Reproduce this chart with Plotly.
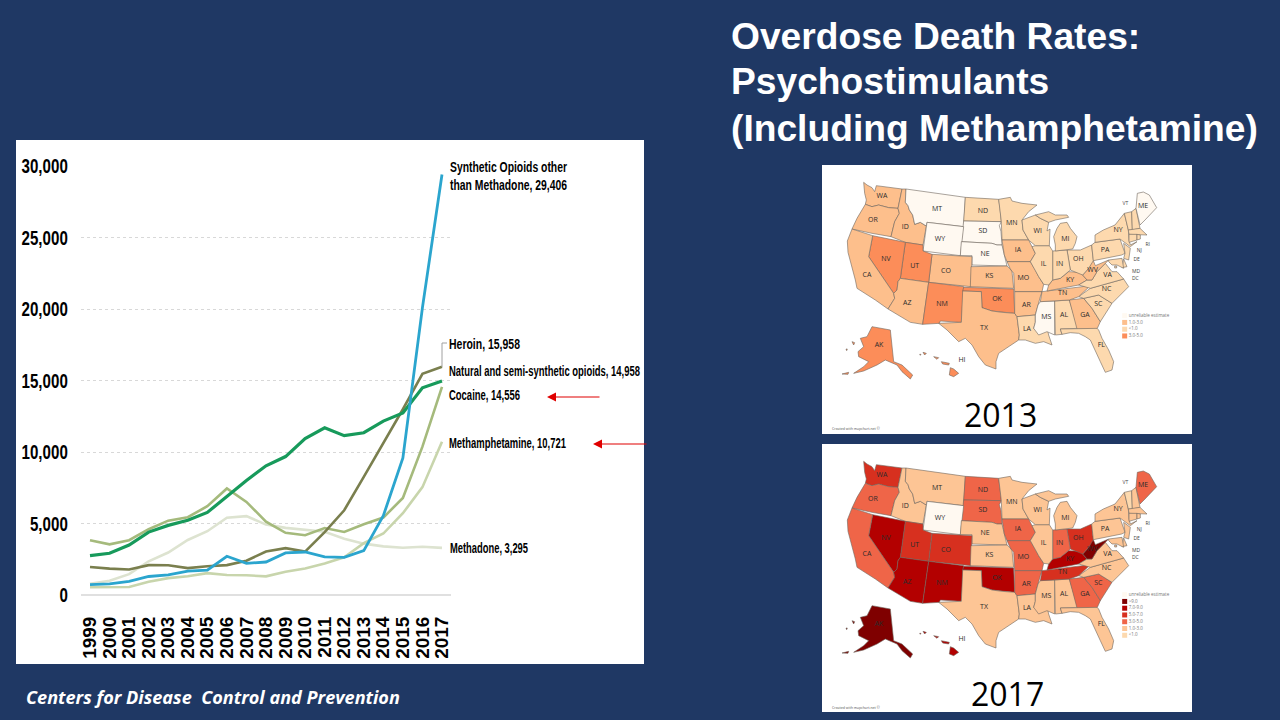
import plotly.graph_objects as go

# ---------- line chart data ----------
YEARS = list(range(1999, 2018))
SYNTHETIC = [730, 782, 957, 1295, 1400, 1664, 1742, 2707, 2213, 2306, 2946, 3007, 2666, 2628, 3105, 5544, 9580, 20100, 29406]
HEROIN = [1960, 1842, 1779, 2089, 2080, 1878, 2009, 2088, 2399, 3041, 3278, 3036, 4397, 5925, 8257, 10574, 12989, 15469, 15958]
NATURAL = [2749, 2917, 3491, 4398, 4867, 5231, 5774, 6901, 8002, 9037, 9681, 10943, 11693, 11140, 11346, 12159, 12727, 14487, 14958]
COCAINE = [3822, 3544, 3833, 4599, 5199, 5443, 6208, 7448, 6512, 5129, 4350, 4183, 4681, 4404, 4944, 5415, 6784, 10375, 14556]
METH = [547, 578, 563, 933, 1181, 1312, 1529, 1400, 1379, 1302, 1632, 1854, 2200, 2635, 3627, 4298, 5716, 7542, 10721]
METHADONE = [784, 1000, 1456, 2358, 2972, 3845, 4460, 5406, 5518, 4924, 4696, 4577, 4418, 3932, 3591, 3400, 3301, 3373, 3295]

# ---------- map data ----------
COL_2013 = {"u": "#FFF9F1", "lt1": "#FDD9AE", "1-3": "#FDBF8C", "3-5": "#FC8D59"}
COL_2017 = {"u": "#FFF9F1", "lt1": "#FDD9AE", "1-3": "#FDC595", "3-5": "#EF6548", "5-7": "#D7301F", "7-9": "#B30000", "gt9": "#7F0000"}

RATE_2013 = dict(
    WA="1-3", OR="1-3", CA="1-3", NV="3-5", ID="1-3", MT="u", WY="u", UT="3-5", AZ="1-3", CO="1-3", NM="3-5",
    ND="lt1", SD="u", NE="u", KS="1-3", OK="3-5", TX="1-3", MN="lt1", IA="1-3", MO="1-3", AR="1-3", LA="lt1",
    WI="lt1", IL="lt1", MS="u", MI="lt1", IN="lt1", OH="lt1", KY="1-3", TN="1-3", AL="lt1", GA="1-3", FL="lt1",
    SC="lt1", NC="lt1", VA="lt1", WV="1-3", PA="lt1", NY="lt1", VT="lt1", NH="lt1", ME="u", MA="lt1", CT="lt1",
    RI="lt1", NJ="lt1", DE="lt1", MD="lt1", DC="lt1", AK="3-5", HI="3-5")
RATE_2017 = dict(
    WA="5-7", OR="3-5", CA="3-5", NV="7-9", ID="1-3", MT="1-3", WY="u", UT="5-7", AZ="7-9", CO="5-7", NM="7-9",
    ND="3-5", SD="3-5", NE="1-3", KS="1-3", OK="7-9", TX="1-3", MN="1-3", IA="3-5", MO="3-5", AR="3-5", LA="1-3",
    WI="1-3", IL="1-3", MS="1-3", MI="1-3", IN="3-5", OH="5-7", KY="7-9", TN="5-7", AL="1-3", GA="3-5", FL="1-3",
    SC="3-5", NC="1-3", VA="1-3", WV="gt9", PA="1-3", NY="1-3", VT="lt1", NH="1-3", ME="3-5", MA="1-3", CT="1-3",
    RI="1-3", NJ="1-3", DE="1-3", MD="1-3", DC="1-3", AK="gt9", HI="7-9")

LEGEND_2013 = [("unreliable estimate", "u"), ("1.0-3.0", "1-3"), ("<1.0", "lt1"), ("3.0-5.0", "3-5")]
LEGEND_2017 = [("unreliable estimate", "u"), (">9.0", "gt9"), ("7.0-9.0", "7-9"), ("5.0-7.0", "5-7"),
               ("3.0-5.0", "3-5"), ("1.0-3.0", "1-3"), ("<1.0", "lt1")]

# State outlines, in the map's own unit grid
OUTLINES = {
 "WA": [[(125,52),(135,60),(150,68),(158,80),(163,62),(240,72),(228,130),(200,128),(170,120),(150,125),(130,118),(133,105),(128,85)]],
 "OR": [[(130,118),(150,125),(170,120),(200,128),(228,130),(232,145),(218,170),(207,215),(150,205),(90,192),(105,160),(118,140)]],
 "ID": [[(240,72),(252,72),(250,112),(258,122),(262,135),(272,150),(278,178),(295,172),(313,183),(303,240),(250,232),(207,215),(218,170),(232,145),(228,130)]],
 "MT": [[(252,72),(430,97),(425,185),(315,172),(313,183),(295,172),(278,178),(272,150),(262,135),(258,122),(250,112)]],
 "ND": [[(430,97),(530,103),(534,130),(538,170),(425,168)]],
 "SD": [[(425,168),(538,170),(532,182),(537,200),(540,240),(525,240),(510,235),(418,230)]],
 "WY": [[(315,172),(425,185),(415,272),(303,258)]],
 "NE": [[(418,230),(510,235),(525,240),(540,240),(547,270),(555,303),(450,300),(450,272),(415,272)]],
 "CO": [[(330,268),(450,275),(447,365),(320,352)]],
 "UT": [[(250,232),(303,240),(303,258),(330,268),(320,352),(235,340)]],
 "NV": [[(152,212),(250,232),(235,340),(228,350),(225,375),(215,385),(140,275)]],
 "CA": [[(90,192),(152,212),(140,275),(215,385),(218,400),(210,412),(198,432),(160,405),(130,385),(105,370),(100,345),(90,310),(78,262),(76,228)]],
 "AZ": [[(235,340),(320,352),(302,478),(265,472),(198,432),(210,412),(218,400),(215,385),(225,375),(228,350)]],
 "NM": [[(320,352),(425,365),(418,472),(355,468),(352,475),(302,478)]],
 "KS": [[(447,305),(555,303),(565,312),(570,320),(575,370),(445,365)]],
 "OK": [[(425,367),(575,372),(578,445),(540,442),(510,438),(480,428),(478,380),(422,378)]],
 "TX": [[(422,378),(478,380),(480,428),(510,438),(540,442),(578,445),(585,455),(592,510),(590,525),(560,545),(530,565),(522,590),(522,612),(490,600),(470,575),(450,540),(430,520),(410,530),(390,510),(375,495),(350,475),(418,472)]],
 "MN": [[(530,103),(565,97),(570,108),(600,115),(645,120),(620,140),(600,165),(603,195),(620,225),(540,225),(538,170),(534,130)]],
 "IA": [[(540,225),(620,225),(630,245),(640,265),(625,290),(555,290),(547,270)]],
 "MO": [[(555,290),(625,290),(640,315),(650,335),(665,358),(660,380),(578,380),(575,325),(565,312)]],
 "AR": [[(578,380),(660,380),(655,395),(648,420),(640,450),(585,455),(578,445)]],
 "LA": [[(585,455),(640,450),(640,472),(635,490),(675,488),(680,510),(690,540),(665,530),(640,535),(610,525),(590,525),(592,510)]],
 "MS": [[(655,410),(698,408),(698,510),(675,500),(650,510),(635,490),(640,472),(640,450),(648,420)]],
 "AL": [[(698,408),(742,405),(768,490),(715,492),(720,508),(700,510)]],
 "GA": [[(742,405),(785,400),(810,430),(835,470),(825,492),(765,492)]],
 "FL": [[(715,492),(768,490),(825,490),(830,495),(840,520),(860,555),(875,590),(870,615),(850,622),(835,590),(820,555),(805,525),(790,515),(770,505),(745,503),(720,508)]],
 "SC": [[(785,400),(830,390),(870,415),(850,445),(835,470),(810,430)]],
 "NC": [[(805,370),(905,342),(920,365),(900,385),(870,415),(830,390),(785,400),(770,395)]],
 "TN": [[(660,380),(675,378),(805,362),(770,395),(742,405),(655,410)]],
 "KY": [[(680,360),(692,345),(715,340),(740,320),(775,322),(795,345),(770,360),(675,378)]],
 "VA": [[(770,360),(795,345),(810,345),(825,320),(850,295),(870,320),(885,320),(905,342),(805,370)]],
 "WV": [[(782,330),(800,310),(809,287),(814,287),(820,302),(860,285),(850,295),(825,320),(810,345),(795,345)]],
 "OH": [[(735,255),(775,255),(809,240),(814,287),(800,310),(782,330),(745,315)]],
 "IN": [[(692,258),(735,255),(745,315),(715,340),(692,345)]],
 "IL": [[(640,242),(682,242),(692,258),(692,345),(680,360),(665,358),(650,335),(640,315),(625,290),(640,265),(630,245)]],
 "WI": [[(600,165),(640,150),(655,160),(680,172),(675,198),(684,192),(682,242),(640,242),(620,225),(603,195)]],
 "MI": [[(700,240),(695,215),(705,190),(715,175),(735,172),(745,190),(765,215),(760,235),(752,252),(700,258)],[(640,150),(680,140),(700,150),(735,150),(740,157),(700,165),(680,172),(655,160)]],
 "PA": [[(809,240),(819,232),(894,222),(909,265),(899,270),(814,287)]],
 "NY": [[(819,210),(844,195),(879,180),(907,145),(919,195),(921,225),(925,240),(945,230),(925,245),(894,222),(819,232)]],
 "VT": [[(907,145),(929,140),(931,195),(919,195)]],
 "NH": [[(929,140),(942,130),(954,190),(931,195)]],
 "ME": [[(946,85),(964,81),(982,90),(1004,128),(969,165),(954,180),(942,130)]],
 "MA": [[(919,195),(954,190),(975,210),(921,208)]],
 "CT": [[(921,208),(945,208),(945,225),(921,232)]],
 "RI": [[(945,208),(955,210),(955,222),(945,225)]],
 "NJ": [[(905,235),(925,250),(920,285),(905,280),(909,265)]],
 "DE": [[(905,282),(915,305),(900,308)]],
 "MD": [[(860,285),(900,280),(905,310),(885,300),(870,300),(860,290)]],
 "DC": [[(878,303),(884,303),(884,309),(878,309)]],
 "AK": [[(150,485),(205,495),(215,590),(240,600),(272,630),(265,642),(240,620),(225,600),(190,585),(165,600),(125,618),(95,625),(125,605),(140,590),(110,575),(108,560),(125,545),(115,520),(135,515)],[(60,627),(80,622),(78,628)],[(90,530),(98,533),(95,540)],[(72,552),(76,552),(74,557)]],
 "HI": [[(385,608),(395,612),(410,625),(395,635),(382,630)],[(358,590),(382,595),(380,600),(362,597)],[(335,575),(350,578),(345,583)],[(303,562),(313,565),(308,570)],[(293,568),(297,568),(295,571)]],
}
LABELS = dict(
    WA=(180,93), OR=(153,167), CA=(135,330), NV=(192,282), ID=(250,188), MT=(345,133), WY=(354,223), UT=(278,305),
    AZ=(256,415), CO=(372,320), NM=(360,417), ND=(483,140), SD=(483,198), NE=(489,267), KS=(502,335), OK=(525,402),
    TX=(486,491), MN=(569,174), IA=(588,255), MO=(604,339), AR=(613,421), LA=(615,492), WI=(647,198), IL=(665,299),
    MS=(673,456), MI=(730,222), IN=(713,299), OH=(769,283), KY=(744,345), TN=(722,385), AL=(726,452), GA=(789,452),
    FL=(838,541), SC=(829,417), NC=(854,372), VA=(857,330), WV=(812,316), PA=(849,255), NY=(888,196), ME=(963,125), HI=(420,587), AKL=(171,541))
CALLOUTS = dict(VT=(910,115), NJ=(952,257), DE=(944,285), MD=(942,319), DC=(940,341), RI=(977,239))

NAVY = "#1F3864"
SERIES = [("Methadone", METHADONE, "#DDE3D0", 2.6), ("Methamphetamine", METH, "#C8D5AC", 2.6),
          ("Cocaine", COCAINE, "#A5BA7C", 2.6), ("Heroin", HEROIN, "#7A7F4E", 2.6),
          ("Natural", NATURAL, "#179A5B", 3.2), ("Synthetic", SYNTHETIC, "#2BA5CE", 2.8)]

def fx(p): return p / 1280
def fy(p): return 1 - p / 720

fig = go.Figure()
for name, vals, col, w in SERIES:
    fig.add_trace(go.Scatter(x=YEARS, y=vals, mode="lines", name=name, line=dict(color=col, width=w),
                             xaxis="x", yaxis="y", hoverinfo="skip", showlegend=False))

def add_map(xa, ya, rates, colors, legend):
    for st, parts in OUTLINES.items():
        xs, ys = [], []
        for part in parts:
            xs += [p[0] for p in part] + [part[0][0], None]
            ys += [p[1] for p in part] + [part[0][1], None]
        fig.add_trace(go.Scatter(x=xs, y=ys, mode="lines", fill="toself", fillcolor=colors[rates[st]],
                                 line=dict(color="#6E675E", width=0.6), xaxis=xa, yaxis=ya,
                                 hoverinfo="skip", showlegend=False))
    names = [k.replace("AKL", "AK") for k in LABELS]
    fig.add_trace(go.Scatter(x=[v[0] for v in LABELS.values()], y=[v[1] for v in LABELS.values()], mode="text", text=names,
                             textfont=dict(family="Open Sans", size=7, color="#2B2B2B"), xaxis=xa, yaxis=ya,
                             hoverinfo="skip", showlegend=False))
    fig.add_trace(go.Scatter(x=[v[0] for v in CALLOUTS.values()], y=[v[1] for v in CALLOUTS.values()], mode="text",
                             text=list(CALLOUTS), textfont=dict(family="Open Sans", size=5, color="#444"),
                             xaxis=xa, yaxis=ya, hoverinfo="skip", showlegend=False))
    ly = [452 + 20.3 * i for i in range(len(legend))]
    fig.add_trace(go.Scatter(x=[908] * len(legend), y=ly, mode="markers+text",
                             marker=dict(symbol="square", size=5, color=[colors[k] for _, k in legend]),
                             text=[t for t, _ in legend], textposition="middle right",
                             textfont=dict(family="Open Sans", size=4.5, color="#777"),
                             xaxis=xa, yaxis=ya, hoverinfo="skip", showlegend=False))
    fig.add_trace(go.Scatter(x=[30], y=[792], mode="text", text=["Created with mapchart.net ©"], textposition="middle right",
                             textfont=dict(family="Open Sans", size=3.5, color="#555"),
                             xaxis=xa, yaxis=ya, hoverinfo="skip", showlegend=False))

add_map("x2", "y2", RATE_2013, COL_2013, LEGEND_2013)
add_map("x3", "y3", RATE_2017, COL_2017, LEGEND_2017)

shapes = [
    dict(type="rect", xref="paper", yref="paper", x0=fx(16), x1=fx(644), y0=fy(664), y1=fy(140), fillcolor="white", line_width=0, layer="below"),
    dict(type="rect", xref="paper", yref="paper", x0=fx(822), x1=fx(1192), y0=fy(434), y1=fy(165), fillcolor="white", line_width=0, layer="below"),
    dict(type="rect", xref="paper", yref="paper", x0=fx(822), x1=fx(1192), y0=fy(712), y1=fy(444), fillcolor="white", line_width=0, layer="below"),
    dict(type="path", xref="paper", yref="paper",
         path=f"M {fx(442)} {fy(367)} L {fx(442)} {fy(343)} L {fx(447)} {fy(343)}", line=dict(color="#A0A0A0", width=1)),
]

SANS = "Liberation Sans"
def note(text, x, y, size=14.5, color="black", family=SANS, style="normal"):
    return dict(text=text, xref="paper", yref="paper", x=fx(x), y=fy(y), xanchor="left", yanchor="middle", align="left",
                showarrow=False, font=dict(family=family, size=size, color=color, weight=700, style=style))

annotations = [
    note("Synthetic Opioids other", 447.5, 167), note("than Methadone, 29,406", 447.5, 185),
    note("Heroin, 15,958", 446.5, 344), note("Natural and semi-synthetic opioids, 14,958", 446.5, 371),
    note("Cocaine, 14,556", 446.5, 395), note("Methamphetamine, 10,721", 446.5, 443), note("Methadone, 3,295", 447.5, 548),
    note("Overdose Death Rates:", 728.5, 36, 37.2, "white"),
    note("Psychostimulants", 728.5, 81, 37.2, "white"),
    note("(Including Methamphetamine)", 728.5, 128, 37.2, "white"),
    note("Centers for Disease  Control and Prevention", 24, 697, 18.1, "white", "Open Sans", "italic"),
    dict(text="2013", xref="paper", yref="paper", x=fx(1000), y=fy(415), xanchor="center", yanchor="middle", showarrow=False,
         font=dict(family="Open Sans", size=32, color="black")),
    dict(text="2017", xref="paper", yref="paper", x=fx(1007), y=fy(693), xanchor="center", yanchor="middle", showarrow=False,
         font=dict(family="Open Sans", size=32, color="black")),
]
for x0, x1, y in [(601, 547, 397), (648, 593, 444)]:
    annotations.append(dict(text="", xref="paper", yref="paper", x=fx(x1), y=fy(y), ax=x0 - x1, ay=0,
                            showarrow=True, arrowhead=2, arrowsize=1.5, arrowwidth=1.2, arrowcolor="#E00000"))

px_per_year = (442 - 90) / 18
fig.update_layout(
    width=1280, height=720, margin=dict(l=0, r=0, t=0, b=0), paper_bgcolor=NAVY, plot_bgcolor="rgba(0,0,0,0)",
    shapes=shapes, annotations=annotations, showlegend=False, template="none",
    xaxis=dict(domain=[fx(81), fx(451)], range=[1999 - 9 / px_per_year, 2017 + 9 / px_per_year], tickmode="linear", tick0=1999, dtick=1,
               automargin=False, tickangle=-90, showgrid=False, zeroline=False, showline=False, ticks="outside", ticklen=13, tickcolor="rgba(0,0,0,0)",
               tickfont=dict(family=SANS, size=19, color="black", weight=700)),
    yaxis=dict(domain=[fy(595), fy(166)], range=[0, 30000], tickvals=[0, 5000, 10000, 15000, 20000, 25000, 30000], tickformat=",",
               automargin=False, showgrid=True, gridcolor="#D8D8D8", griddash="dot", gridwidth=1, zeroline=True, zerolinecolor="#E0E0E0", zerolinewidth=1.5,
               ticks="outside", ticklen=8, tickcolor="rgba(0,0,0,0)", tickfont=dict(family=SANS, size=21, color="black", weight=700)),
    xaxis2=dict(domain=[fx(822), fx(1192)], range=[0, 1110], visible=False, fixedrange=True),
    yaxis2=dict(domain=[fy(435), fy(165)], range=[810, 0], visible=False, fixedrange=True),
    xaxis3=dict(domain=[fx(822), fx(1192)], range=[0, 1110], visible=False, fixedrange=True),
    yaxis3=dict(domain=[fy(714), fy(444)], range=[810, 0], visible=False, fixedrange=True),
)

# The reference's chart labels are set in a narrow cut of a bold grotesque; no narrow face is installed,
# so the browser squeezes the real text horizontally to the width it has in the reference.
POST = """
document.body.style.margin='0';document.body.style.overflow='hidden';document.body.style.background='#1F3864';
function squeeze(el,w){el.setAttribute('textLength',w);el.setAttribute('lengthAdjust','spacingAndGlyphs');}
document.querySelectorAll('.ytick text').forEach(function(t){squeeze(t,t.getComputedTextLength()*0.72);});
var W={'Synthetic Opioids other':117,'than Methadone, 29,406':117,'Heroin, 15,958':71,'Natural and semi-synthetic opioids, 14,958':191,
'Cocaine, 14,556':71,'Methamphetamine, 10,721':117,'Methadone, 3,295':78};
document.querySelectorAll('.annotation-text').forEach(function(t){var w=W[t.textContent];if(w)squeeze(t,w);});
"""
fig.write_html("out.html", post_script=POST, config={"displayModeBar": False})
